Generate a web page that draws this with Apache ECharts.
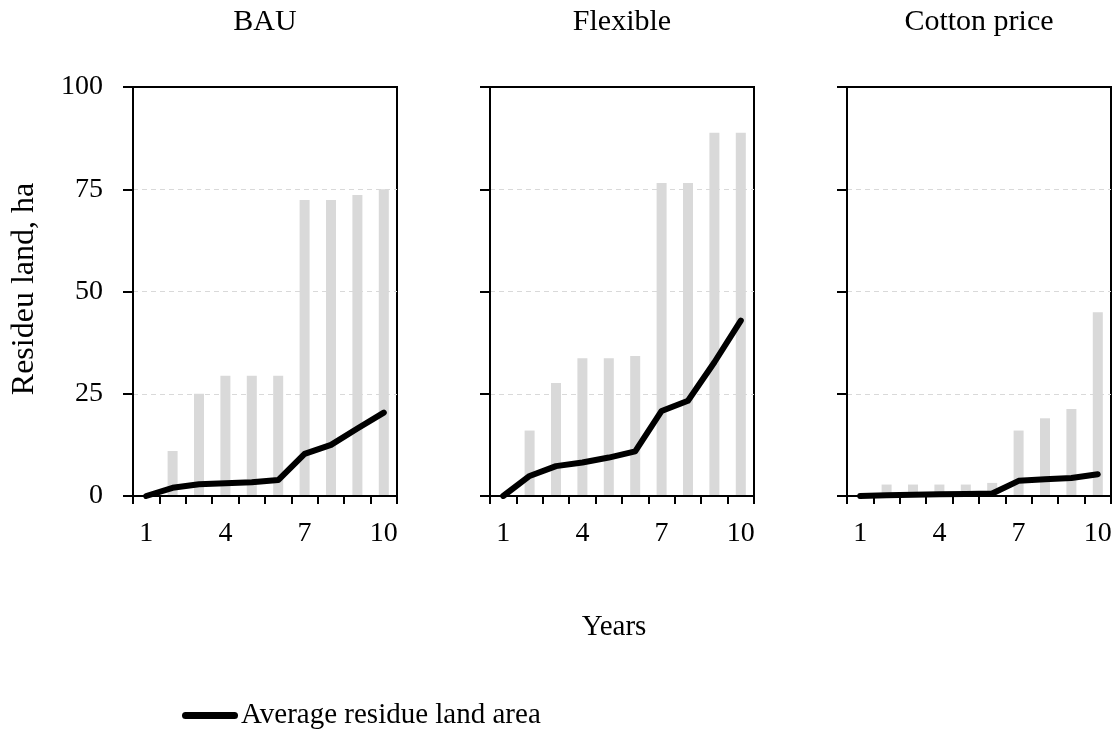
<!DOCTYPE html>
<html>
<head>
<meta charset="utf-8">
<script src="https://cdn.jsdelivr.net/npm/echarts@6/dist/echarts.min.js"></script>
<style>html,body{margin:0;padding:0;background:#fff;}#c{width:1119px;height:733px;}</style>
</head>
<body>
<div id="c"></div>
<script>
const years = ['1','2','3','4','5','6','7','8','9','10'];
const panelTitles = ['BAU', 'Flexible', 'Cotton price'];
const bauBars = [0, 11, 25, 29.4, 29.4, 29.4, 72.4, 72.4, 73.6, 75];
const bauLine = [0, 2.0, 2.85, 3.1, 3.35, 3.9, 10.3, 12.5, 16.5, 20.4];
const flexBars = [0, 16, 27.6, 33.7, 33.7, 34.2, 76.5, 76.5, 88.8, 88.8];
const flexLine = [0, 4.9, 7.3, 8.2, 9.4, 10.9, 20.8, 23.3, 32.7, 42.9];
const cottonBars = [0, 2.8, 2.8, 2.8, 2.8, 3.2, 16, 19, 21.3, 44.9];
const cottonLine = [0, 0.2, 0.3, 0.4, 0.5, 0.6, 3.7, 4.1, 4.4, 5.3];
const lineName = 'Average residue land area';
const yAxisName = 'Resideu land, ha';
const xAxisName = 'Years';

const FONT = 'Liberation Serif';
const barsAll = [bauBars, flexBars, cottonBars];
const linesAll = [bauLine, flexLine, cottonLine];
const lefts = [133, 490, 847];
const W = 264, TOP = 87, H = 409;

const grids = [], xAxes = [], yAxes = [], series = [], graphics = [];
for (let i = 0; i < 3; i++) {
  grids.push({left: lefts[i], top: TOP, width: W, height: H, show: true,
    borderColor: '#000', borderWidth: 2, backgroundColor: 'transparent'});
  xAxes.push({type: 'category', gridIndex: i, data: years, boundaryGap: true,
    axisLine: {show: true, lineStyle: {color: '#000', width: 2}},
    axisTick: {show: true, interval: 0, length: 8, lineStyle: {color: '#000', width: 2}},
    axisLabel: {interval: 2, color: '#000', fontFamily: FONT, fontSize: 28, margin: 24},
    splitLine: {show: false}, z: 5});
  yAxes.push({type: 'value', gridIndex: i, min: 0, max: 100, interval: 25,
    axisLine: {show: true, lineStyle: {color: '#000', width: 2}},
    axisTick: {show: true, length: 10, lineStyle: {color: '#000', width: 2}},
    axisLabel: {show: i === 0, color: '#000', fontFamily: FONT, fontSize: 28, margin: 30},
    splitLine: {show: true, lineStyle: {color: '#d9d9d9', type: [5, 4], width: 1}}});
  series.push({type: 'bar', name: 'Residue land', xAxisIndex: i, yAxisIndex: i,
    data: barsAll[i], barWidth: 10, itemStyle: {color: '#d9d9d9'}, silent: true, z: 2});
  series.push({type: 'line', name: lineName, xAxisIndex: i, yAxisIndex: i,
    data: linesAll[i], showSymbol: false, symbol: 'none', itemStyle: {color: '#000'},
    lineStyle: {color: '#000', width: 6, cap: 'round', join: 'round'}, z: 3});
  graphics.push({type: 'text', x: lefts[i] + W / 2, y: 22,
    style: {text: panelTitles[i], fill: '#000', font: '30px "' + FONT + '"',
      textAlign: 'center', textVerticalAlign: 'middle'}});
}
// top frame lines drawn as axes so the dashed split line at 100 does not cover them
for (let i = 0; i < 3; i++) {
  xAxes.push({type: 'category', gridIndex: i, data: years, position: 'top',
    axisLine: {show: true, lineStyle: {color: '#000', width: 2}},
    axisTick: {show: false}, axisLabel: {show: false}, splitLine: {show: false}, z: 10});
}
graphics.push({type: 'text', x: 25, y: 289, rotation: Math.PI / 2,
  style: {text: yAxisName, fill: '#000', font: '32px "' + FONT + '"',
    textAlign: 'center', textVerticalAlign: 'middle'}});
graphics.push({type: 'text', x: 614, y: 627,
  style: {text: xAxisName, fill: '#000', font: '29px "' + FONT + '"',
    textAlign: 'center', textVerticalAlign: 'middle'}});

const chart = echarts.init(document.getElementById('c'), null, {renderer: 'canvas'});
chart.setOption({
  animation: false,
  backgroundColor: '#fff',
  grid: grids,
  xAxis: xAxes,
  yAxis: yAxes,
  legend: {data: [lineName], left: 177, top: 696, itemWidth: 56, itemHeight: 7,
    icon: 'path://M3.5,0 L52.5,0 A3.5,3.5 0 0 1 52.5,7 L3.5,7 A3.5,3.5 0 0 1 3.5,0 Z',
    selectedMode: false,
    textStyle: {color: '#000', fontFamily: FONT, fontSize: 29, padding: [0, 0, 0, -2]}},
  series: series,
  graphic: graphics
});
</script>
</body>
</html>
